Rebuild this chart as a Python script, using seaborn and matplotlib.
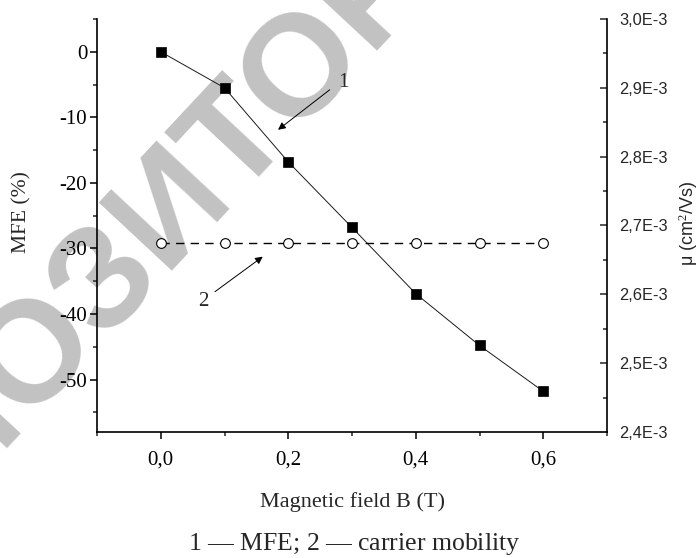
import matplotlib
matplotlib.use("Agg")
import matplotlib.pyplot as plt
import seaborn as sns
from matplotlib.ticker import MultipleLocator

# ---------------- data ----------------
B_FIELD = [0.0, 0.1, 0.2, 0.3, 0.4, 0.5, 0.6]
MFE = [0.0, -5.5, -16.8, -26.8, -36.9, -44.8, -51.8]
MOBILITY = [2.675e-3, 2.675e-3, 2.675e-3, 2.675e-3, 2.675e-3, 2.675e-3, 2.675e-3]

X_TICKS = [0.0, 0.2, 0.4, 0.6]
X_TICK_LABELS = ["0,0", "0,2", "0,4", "0,6"]
LEFT_TICKS = [0, -10, -20, -30, -40, -50]
LEFT_TICK_LABELS = ["0", "-10", "-20", "-30", "-40", "-50"]
RIGHT_TICKS = [2.4e-3, 2.5e-3, 2.6e-3, 2.7e-3, 2.8e-3, 2.9e-3, 3.0e-3]
RIGHT_TICK_LABELS = ["2,4E-3", "2,5E-3", "2,6E-3", "2,7E-3", "2,8E-3", "2,9E-3", "3,0E-3"]

X_LABEL = "Magnetic field B (T)"
LEFT_LABEL = "MFE (%)"
RIGHT_LABEL = "μ (cm$^2$/Vs)"
CAPTION = r"$\mathit{1}$ — MFE; $\mathit{2}$ — carrier mobility"
WATERMARK = "РЕПОЗИТОРИЙ"

# ---------------- style ----------------
sns.set_theme(style="ticks")
plt.rcParams["font.family"] = ["Liberation Serif", "DejaVu Serif"]
plt.rcParams["mathtext.fontset"] = "custom"
plt.rcParams["mathtext.rm"] = "Liberation Serif"
plt.rcParams["mathtext.it"] = "Liberation Serif:italic"
plt.rcParams["mathtext.sf"] = "Liberation Sans"

W, H = 697, 558
fig = plt.figure(figsize=(W / 100, H / 100), dpi=100)
fig.patch.set_facecolor("white")

# watermark (behind everything)
fig.text(172 / W, 1 - 206 / H, WATERMARK, fontsize=104, color="#c2c2c2",
         family="Liberation Sans", weight="bold", rotation=47,
         rotation_mode="anchor", ha="center", va="center", zorder=-10)

left, right, top, bottom = 97, 607, 19, 432
ax = fig.add_axes([left / W, 1 - bottom / H, (right - left) / W, (bottom - top) / H])
ax.patch.set_alpha(0)
ax2 = ax.twinx()
ax2.patch.set_alpha(0)

# series 1: MFE
sns.lineplot(x=B_FIELD, y=MFE, ax=ax, color="#1a1a1a", linewidth=0.7,
             marker="s", markersize=7.5, markerfacecolor="black",
             markeredgecolor="black", markeredgewidth=0.5, zorder=3)

# series 2: mobility
sns.lineplot(x=B_FIELD, y=MOBILITY, ax=ax2, color="black", linewidth=1.0,
             marker="o", markersize=7, markerfacecolor="white",
             markeredgecolor="black", markeredgewidth=0.8, zorder=3)
for ln in ax2.get_lines():
    ln.set_linestyle((0, (6, 4.5)))

# limits
ax.set_xlim(-0.1, 0.7)
ax.set_ylim(-58, 5)
ax2.set_ylim(2.4e-3, 3.0e-3)

# ticks
ax.set_xticks(X_TICKS, X_TICK_LABELS)
ax.xaxis.set_minor_locator(MultipleLocator(0.1))
ax.set_yticks(LEFT_TICKS, LEFT_TICK_LABELS)
ax.yaxis.set_minor_locator(MultipleLocator(5))
ax2.set_yticks(RIGHT_TICKS, RIGHT_TICK_LABELS)
ax2.yaxis.set_minor_locator(MultipleLocator(0.5e-4))

ax.tick_params(axis="both", which="major", direction="out", length=5, width=1.1,
               labelsize=15, colors="black")
ax.tick_params(axis="both", which="minor", direction="out", length=3, width=1.1)
ax.tick_params(axis="y", which="major", pad=2)
ax.tick_params(axis="x", which="major", pad=8)
ax2.tick_params(axis="y", which="major", direction="in", length=5, width=1.1,
                labelsize=11.8, pad=9, labelfontfamily="Liberation Sans")
ax2.tick_params(axis="y", which="minor", direction="in", length=3, width=1.1)

for s in ["top", "right"]:
    ax.spines[s].set_visible(False)
for s in ["top", "left", "bottom"]:
    ax2.spines[s].set_visible(False)
for s in ["left", "bottom"]:
    ax.spines[s].set_linewidth(1.2)
    ax.spines[s].set_color("black")
ax2.spines["right"].set_linewidth(1.2)
ax2.spines["right"].set_color("black")

# labels
ax.set_xlabel(X_LABEL, fontsize=16, va="center", ha="center")
ax.xaxis.set_label_coords(0.5, (bottom - 502) / (bottom - top))
ax.set_ylabel(LEFT_LABEL, fontsize=15.5, va="center", ha="center")
ax.yaxis.set_label_coords((22 - left) / (right - left), (bottom - 212) / (bottom - top))
ax2.set_ylabel(RIGHT_LABEL, fontsize=13, family="Liberation Sans", va="center", ha="center",
               rotation=90)
ax2.yaxis.set_label_coords((688 - left) / (right - left), (bottom - 223) / (bottom - top))

# annotations
ax.text(0.286, -4.7, "1", fontsize=15, ha="center", va="center")
ax.annotate("", xy=(0.184, -11.9), xytext=(0.265, -5.8),
            arrowprops=dict(arrowstyle="-|>", color="black", lw=0.7,
                            mutation_scale=11, shrinkA=0, shrinkB=0))
ax.text(0.066, -38.1, "2", fontsize=15, ha="center", va="center")
ax.annotate("", xy=(0.160, -31.25), xytext=(0.085, -36.6),
            arrowprops=dict(arrowstyle="-|>", color="black", lw=0.7,
                            mutation_scale=11, shrinkA=0, shrinkB=0))

# caption
fig.text(354 / W, 1 - 550 / H, CAPTION, fontsize=18.5, ha="center", va="baseline")

fig.savefig("out.png", dpi=100)
